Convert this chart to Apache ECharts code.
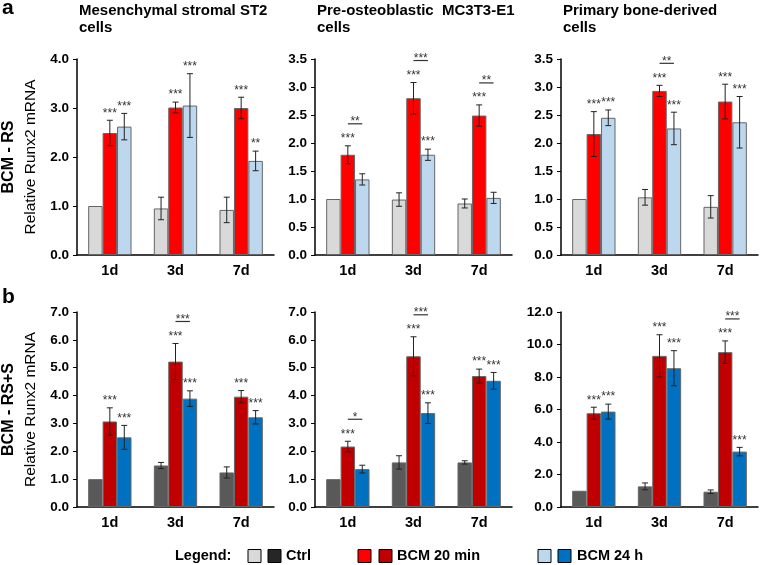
<!DOCTYPE html>
<html>
<head>
<meta charset="utf-8">
<script src="https://cdn.jsdelivr.net/npm/echarts@6/dist/echarts.min.js"></script>
<style>
html,body{margin:0;padding:0;background:#fff;}
#chart{width:762px;height:565px;}
</style>
</head>
<body>
<div id="chart"></div>
<script>
// ---------------- DATA ----------------
const days = ['1d', '3d', '7d'];

// Row a: BCM - RS
const st2RS_ctrl = [1.00, 0.95, 0.92];
const st2RS_ctrlSD = [0, 0.23, 0.26];
const st2RS_m20 = [2.49, 3.01, 3.00];
const st2RS_m20SD = [0.26, 0.11, 0.22];
const st2RS_h24 = [2.62, 3.05, 1.92];
const st2RS_h24SD = [0.27, 0.65, 0.20];
const st2RS_m20Stars = ['***', '***', '***'];
const st2RS_h24Stars = ['***', '***', '**'];
const st2RS_pairStars = ['', '', ''];

const mcRS_ctrl = [1.00, 0.99, 0.92];
const mcRS_ctrlSD = [0, 0.12, 0.08];
const mcRS_m20 = [1.79, 2.80, 2.49];
const mcRS_m20SD = [0.16, 0.28, 0.19];
const mcRS_h24 = [1.35, 1.79, 1.02];
const mcRS_h24SD = [0.10, 0.10, 0.10];
const mcRS_m20Stars = ['***', '***', '***'];
const mcRS_h24Stars = ['', '***', ''];
const mcRS_pairStars = ['**', '***', '**'];

const pbRS_ctrl = [1.00, 1.03, 0.86];
const pbRS_ctrlSD = [0, 0.14, 0.20];
const pbRS_m20 = [2.16, 2.93, 2.74];
const pbRS_m20SD = [0.40, 0.10, 0.31];
const pbRS_h24 = [2.45, 2.26, 2.37];
const pbRS_h24SD = [0.14, 0.29, 0.46];
const pbRS_m20Stars = ['***', '***', '***'];
const pbRS_h24Stars = ['***', '***', '***'];
const pbRS_pairStars = ['', '**', ''];

// Row b: BCM - RS+S
const st2RSS_ctrl = [1.00, 1.49, 1.24];
const st2RSS_ctrlSD = [0, 0.11, 0.20];
const st2RSS_m20 = [3.07, 5.22, 3.96];
const st2RSS_m20SD = [0.49, 0.65, 0.22];
const st2RSS_h24 = [2.50, 3.89, 3.22];
const st2RSS_h24SD = [0.43, 0.28, 0.24];
const st2RSS_m20Stars = ['***', '***', '***'];
const st2RSS_h24Stars = ['***', '***', '***'];
const st2RSS_pairStars = ['', '***', ''];

const mcRSS_ctrl = [1.00, 1.60, 1.60];
const mcRSS_ctrlSD = [0, 0.24, 0.06];
const mcRSS_m20 = [2.17, 5.41, 4.70];
const mcRSS_m20SD = [0.19, 0.70, 0.25];
const mcRSS_h24 = [1.36, 3.37, 4.53];
const mcRSS_h24SD = [0.14, 0.37, 0.30];
const mcRSS_m20Stars = ['***', '***', '***'];
const mcRSS_h24Stars = ['', '***', '***'];
const mcRSS_pairStars = ['*', '***', ''];

const pbRSS_ctrl = [1.00, 1.27, 0.94];
const pbRSS_ctrlSD = [0, 0.21, 0.11];
const pbRSS_m20 = [5.77, 9.30, 9.53];
const pbRSS_m20SD = [0.37, 1.30, 0.69];
const pbRSS_h24 = [5.87, 8.54, 3.41];
const pbRSS_h24SD = [0.46, 1.08, 0.26];
const pbRSS_m20Stars = ['***', '***', '***'];
const pbRSS_h24Stars = ['***', '***', '***'];
const pbRSS_pairStars = ['', '', '***'];

const titles = ['Mesenchymal stromal ST2\ncells', 'Pre-osteoblastic  MC3T3-E1\ncells', 'Primary bone-derived\ncells'];
const rowNames = ['BCM - RS', 'BCM - RS+S'];
const yName = 'Relative Runx2 mRNA';
const legendLabels = ['Ctrl', 'BCM 20 min', 'BCM 24 h'];
const axisMax = [4, 3.5, 3.5, 7, 7, 12];
const axisStep = [1, 0.5, 0.5, 1, 1, 2];

// ---------------- LAYOUT / STYLE ----------------
const FONT = 'Liberation Sans, Arial, sans-serif';
const lightColors = ['#d9d9d9', '#ff0000', '#bdd7ee'];
const darkColors = ['#595959', '#c00000', '#0070c0'];
const colLeft = [77, 315, 561];
const rowTop = [59, 312];
const plotW = 197;
const plotH = [196, 195];
const BARW = 0.22;

const panels = [
  {ctrl: st2RS_ctrl, ctrlSD: st2RS_ctrlSD, m20: st2RS_m20, m20SD: st2RS_m20SD, h24: st2RS_h24, h24SD: st2RS_h24SD, m20S: st2RS_m20Stars, h24S: st2RS_h24Stars, pairS: st2RS_pairStars},
  {ctrl: mcRS_ctrl, ctrlSD: mcRS_ctrlSD, m20: mcRS_m20, m20SD: mcRS_m20SD, h24: mcRS_h24, h24SD: mcRS_h24SD, m20S: mcRS_m20Stars, h24S: mcRS_h24Stars, pairS: mcRS_pairStars},
  {ctrl: pbRS_ctrl, ctrlSD: pbRS_ctrlSD, m20: pbRS_m20, m20SD: pbRS_m20SD, h24: pbRS_h24, h24SD: pbRS_h24SD, m20S: pbRS_m20Stars, h24S: pbRS_h24Stars, pairS: pbRS_pairStars},
  {ctrl: st2RSS_ctrl, ctrlSD: st2RSS_ctrlSD, m20: st2RSS_m20, m20SD: st2RSS_m20SD, h24: st2RSS_h24, h24SD: st2RSS_h24SD, m20S: st2RSS_m20Stars, h24S: st2RSS_h24Stars, pairS: st2RSS_pairStars},
  {ctrl: mcRSS_ctrl, ctrlSD: mcRSS_ctrlSD, m20: mcRSS_m20, m20SD: mcRSS_m20SD, h24: mcRSS_h24, h24SD: mcRSS_h24SD, m20S: mcRSS_m20Stars, h24S: mcRSS_h24Stars, pairS: mcRSS_pairStars},
  {ctrl: pbRSS_ctrl, ctrlSD: pbRSS_ctrlSD, m20: pbRSS_m20, m20SD: pbRSS_m20SD, h24: pbRSS_h24, h24SD: pbRSS_h24SD, m20S: pbRSS_m20Stars, h24S: pbRSS_h24Stars, pairS: pbRSS_pairStars}
];

const grids = [], xAxes = [], yAxes = [], series = [];

panels.forEach(function (p, k) {
  const row = Math.floor(k / 3), col = k % 3;
  grids.push({left: colLeft[col], top: rowTop[row], width: plotW, height: plotH[row]});
  xAxes.push({
    type: 'category', gridIndex: k, data: days,
    axisLine: {lineStyle: {color: '#000', width: 1.5}},
    axisTick: {show: false},
    axisLabel: {color: '#000', fontWeight: 'bold', fontSize: 14.5, fontFamily: FONT, margin: 8}
  });
  yAxes.push({
    type: 'value', gridIndex: k, min: 0, max: axisMax[k], interval: axisStep[k],
    splitLine: {show: false},
    axisLine: {show: true, lineStyle: {color: '#000', width: 1.5}},
    axisTick: {show: true, length: 4, lineStyle: {color: '#000', width: 1}},
    axisLabel: {color: '#000', fontWeight: 'bold', fontSize: 13.5, fontFamily: FONT, margin: 8,
      formatter: function (v) { return v.toFixed(1); }}
  });
  const colors = row === 0 ? lightColors : darkColors;
  const means = [p.ctrl, p.m20, p.h24];
  const sds = [p.ctrlSD, p.m20SD, p.h24SD];
  const stars = [null, p.m20S, p.h24S];
  means.forEach(function (arr, g) {
    series.push({
      type: 'bar', xAxisIndex: k, yAxisIndex: k, data: arr,
      barWidth: (BARW * 100) + '%', barGap: '0%',
      itemStyle: {color: colors[g], borderColor: '#666', borderWidth: 1},
      silent: true, animation: false
    });
  });
  // error bars + stars
  const errData = [];
  means.forEach(function (arr, g) {
    arr.forEach(function (v, i) { errData.push([i, v, g, sds[g][i]]); });
  });
  series.push({
    type: 'custom', xAxisIndex: k, yAxisIndex: k, data: errData,
    encode: {x: 0, y: 1}, silent: true, animation: false, z: 5,
    renderItem: function (params, api) {
      const i = api.value(0), v = api.value(1), g = api.value(2), sd = api.value(3);
      const band = api.size([1, 0])[0];
      const c = api.coord([i, v]);
      const x = c[0] + (g - 1) * band * BARW;
      const ch = [];
      let topY = c[1];
      if (sd > 0) {
        const t = api.coord([i, v + sd])[1];
        const b = api.coord([i, v - sd])[1];
        topY = t;
        const ls = {stroke: '#222', lineWidth: 1};
        ch.push({type: 'line', shape: {x1: x, y1: t, x2: x, y2: b}, style: ls});
        ch.push({type: 'line', shape: {x1: x - 3, y1: t, x2: x + 3, y2: t}, style: ls});
        ch.push({type: 'line', shape: {x1: x - 3, y1: b, x2: x + 3, y2: b}, style: ls});
      }
      const s = stars[g] ? stars[g][i] : '';
      if (s) {
        ch.push({type: 'text', style: {text: s, x: x, y: topY - 1, align: 'center', verticalAlign: 'bottom',
          fontSize: 12, fontFamily: FONT, fill: '#333'}});
      }
      return {type: 'group', children: ch};
    }
  });
  // comparison brackets between 20 min and 24 h
  const pairData = [];
  p.pairS.forEach(function (s, i) {
    if (s) pairData.push([i, Math.max(p.m20[i] + p.m20SD[i], p.h24[i] + p.h24SD[i]), s]);
  });
  series.push({
    type: 'custom', xAxisIndex: k, yAxisIndex: k, data: pairData.map(function (d) { return [d[0], d[1]]; }),
    encode: {x: 0, y: 1}, silent: true, animation: false, z: 5,
    renderItem: function (params, api) {
      const i = api.value(0), top = api.value(1);
      const band = api.size([1, 0])[0];
      const c = api.coord([i, top]);
      const y = c[1] - 22;
      const x1 = c[0], x2 = c[0] + band * BARW;
      return {type: 'group', children: [
        {type: 'line', shape: {x1: x1, y1: y, x2: x2, y2: y}, style: {stroke: '#333', lineWidth: 1.2}},
        {type: 'text', style: {text: pairData[params.dataIndex][2], x: (x1 + x2) / 2, y: y + 4, align: 'center',
          verticalAlign: 'bottom', fontSize: 12, fontFamily: FONT, fill: '#333'}}
      ]};
    }
  });
});

// ---------------- GRAPHIC TEXT ----------------
const graphics = [];
graphics.push({type: 'text', left: 2, top: -2, style: {text: 'a', font: 'bold 21px ' + FONT, fill: '#000'}});
graphics.push({type: 'text', left: 2, top: 287, style: {text: 'b', font: 'bold 21px ' + FONT, fill: '#000'}});
titles.forEach(function (t, c) {
  graphics.push({type: 'text', x: colLeft[c] + 2, y: 2, style: {text: t, font: 'bold 15px ' + FONT, fill: '#000', lineHeight: 17, verticalAlign: 'top'}});
});
rowNames.forEach(function (n, r) {
  const cy = rowTop[r] + plotH[r] / 2;
  graphics.push({type: 'text', x: 9, y: cy, rotation: Math.PI / 2,
    style: {text: n, font: 'bold 16px ' + FONT, fill: '#000', align: 'center', verticalAlign: 'middle'}});
  graphics.push({type: 'text', x: 31, y: cy, rotation: Math.PI / 2,
    style: {text: yName, font: '15.5px ' + FONT, fill: '#000', align: 'center', verticalAlign: 'middle'}});
});
// legend
const legY = 556;
graphics.push({type: 'text', x: 175, y: legY, style: {text: 'Legend:', font: 'bold 14.5px ' + FONT, fill: '#000', verticalAlign: 'middle'}});
const legBoxX = [[248, 268], [358, 379], [538, 558]];
const legTextX = [286, 397, 577];
const legDark = ['#262626', '#c00000', '#0070c0'];
legendLabels.forEach(function (lab, j) {
  graphics.push({type: 'rect', shape: {x: legBoxX[j][0], y: legY - 6.5, width: 13, height: 13}, style: {fill: lightColors[j], stroke: '#000', lineWidth: 1}});
  graphics.push({type: 'rect', shape: {x: legBoxX[j][1], y: legY - 6.5, width: 13, height: 13}, style: {fill: legDark[j], stroke: '#000', lineWidth: 1}});
  graphics.push({type: 'text', x: legTextX[j], y: legY, style: {text: lab, font: 'bold 14.5px ' + FONT, fill: '#000', verticalAlign: 'middle'}});
});

const chart = echarts.init(document.getElementById('chart'), null, {renderer: 'canvas'});
chart.setOption({
  animation: false,
  backgroundColor: '#fff',
  grid: grids,
  xAxis: xAxes,
  yAxis: yAxes,
  series: series,
  graphic: graphics
});
</script>
</body>
</html>
